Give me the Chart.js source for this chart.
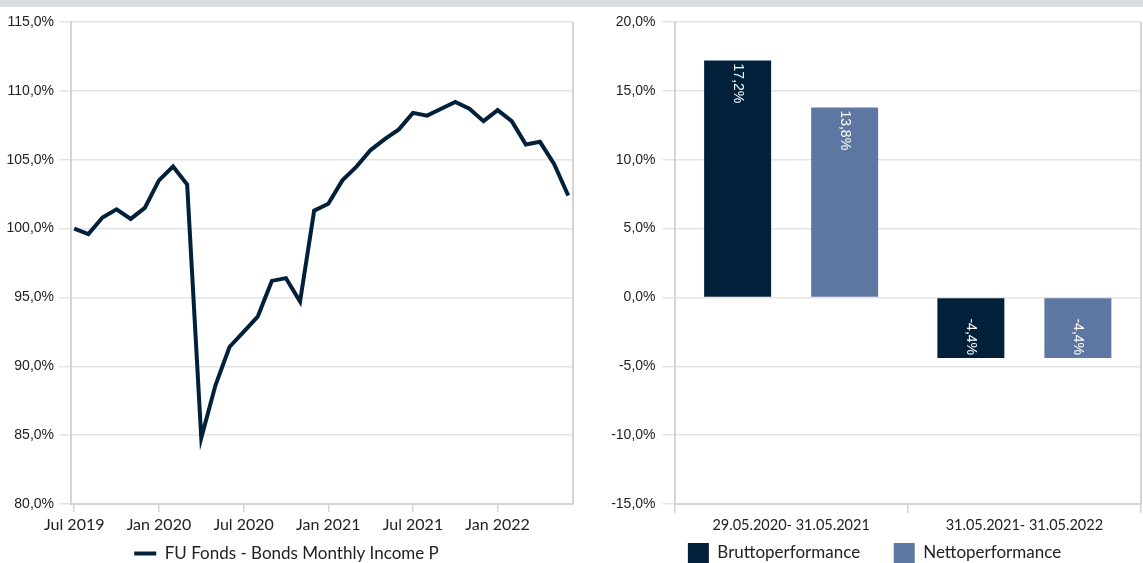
<!DOCTYPE html>
<html>
<head>
<meta charset="utf-8">
<script src="https://cdn.jsdelivr.net/npm/chart.js@4.4.1/dist/chart.umd.min.js"></script>
<style>
    html, body { margin: 0; padding: 0; background: #fff; }
    body { width: 1143px; height: 563px; position: relative; overflow: hidden; }
    #top-bar { position: absolute; left: 0; top: 0; width: 1143px; height: 7px; background: #dadee2; }
    #line-wrap { position: absolute; left: 0; top: 0; width: 582px; height: 563px; }
    #bar-wrap { position: absolute; left: 608px; top: 0; width: 535px; height: 563px; }
</style>
</head>
<body>
<div id="top-bar"></div>
<div id="line-wrap"><canvas id="line-chart" width="582" height="563"></canvas></div>
<div id="bar-wrap"><canvas id="bar-chart" width="535" height="563"></canvas></div>

<script>
// Line chart data (monthly, indexed performance)
const lineLabel = 'FU Fonds - Bonds Monthly Income P';
const lineMonths = [
    'Jul 2019', 'Aug 2019', 'Sep 2019', 'Oct 2019', 'Nov 2019', 'Dec 2019',
    'Jan 2020', 'Feb 2020', 'Mar 2020', 'Apr 2020', 'May 2020', 'Jun 2020',
    'Jul 2020', 'Aug 2020', 'Sep 2020', 'Oct 2020', 'Nov 2020', 'Dec 2020',
    'Jan 2021', 'Feb 2021', 'Mar 2021', 'Apr 2021', 'May 2021', 'Jun 2021',
    'Jul 2021', 'Aug 2021', 'Sep 2021', 'Oct 2021', 'Nov 2021', 'Dec 2021',
    'Jan 2022', 'Feb 2022', 'Mar 2022', 'Apr 2022', 'May 2022', 'Jun 2022'
];
const lineValues = [
    100.0, 99.6, 100.8, 101.4, 100.7, 101.5,
    103.5, 104.5, 103.2, 84.8, 88.6, 91.4,
    92.5, 93.6, 96.2, 96.4, 94.7, 101.3,
    101.8, 103.5, 104.5, 105.7, 106.5, 107.2,
    108.4, 108.2, 108.7, 109.2, 108.7, 107.8,
    108.6, 107.8, 106.1, 106.3, 104.7, 102.4
];
const lineTickEvery = 6;

// Bar chart data (annual performance)
const barPeriods = ['29.05.2020- 31.05.2021', '31.05.2021- 31.05.2022'];
const bruttoLabel = 'Bruttoperformance';
const bruttoValues = [17.2, -4.4];
const nettoLabel = 'Nettoperformance';
const nettoValues = [13.8, -4.4];

const NAVY = '#03203a';
const SLATE = '#5d77a2';
const GRID = '#e4e4e4';
const AXIS = '#d4d4d4';
const TEXT = '#222';
const NARROW = '"Liberation Sans Narrow", "Liberation Sans", Arial, sans-serif';
const SANS = 'Lato, "Open Sans", sans-serif';

// Format like 17,2%
function pct(v) {
    return v.toFixed(1).replace('.', ',') + '%';
}

// Right edge of the plot box
const frameRight = {
    id: 'frameRight',
    beforeDatasetsDraw(chart) {
        const { ctx, chartArea: a } = chart;
        ctx.save();
        ctx.strokeStyle = AXIS;
        ctx.lineWidth = 2;
        ctx.beginPath();
        ctx.moveTo(a.right, a.top);
        ctx.lineTo(a.right, a.bottom);
        ctx.stroke();
        ctx.restore();
    }
};

// Rotated value labels inside the bars
const barValueLabels = {
    id: 'barValueLabels',
    afterDatasetsDraw(chart) {
        const { ctx } = chart;
        ctx.save();
        ctx.font = '14px "Liberation Sans", Arial, sans-serif';
        ctx.fillStyle = '#fff';
        ctx.textBaseline = 'middle';
        chart.data.datasets.forEach((ds, i) => {
            chart.getDatasetMeta(i).data.forEach((bar, j) => {
                const v = ds.data[j];
                ctx.save();
                ctx.translate(bar.x, bar.y);
                ctx.rotate(Math.PI / 2);
                if (v >= 0) {
                    ctx.textAlign = 'left';
                    ctx.fillText(pct(v), 3, 0);
                } else {
                    ctx.textAlign = 'right';
                    ctx.fillText(pct(v), -3, 0);
                }
                ctx.restore();
            });
        });
        ctx.restore();
    }
};

// Line chart
new Chart(document.getElementById('line-chart'), {
    type: 'line',
    data: {
        datasets: [{
            label: lineLabel,
            data: lineValues.map((v, i) => ({ x: i, y: v })),
            borderColor: NAVY,
            backgroundColor: NAVY,
            borderWidth: 4,
            pointRadius: 0,
            pointStyle: 'line',
            tension: 0
        }]
    },
    options: {
        responsive: false,
        animation: false,
        layout: { padding: { top: 22, right: 9, bottom: -9, left: 0 } },
        plugins: {
            tooltip: { enabled: false },
            legend: {
                position: 'bottom',
                labels: {
                    usePointStyle: true,
                    pointStyleWidth: 22,
                    padding: 8,
                    color: TEXT,
                    font: { family: SANS, size: 17 }
                }
            }
        },
        scales: {
            x: {
                type: 'linear',
                min: -0.23,
                max: 35.34,
                afterFit: s => { s.height = 33; },
                // one tick every six months, on the data months themselves
                afterBuildTicks: s => {
                    s.ticks = lineMonths
                        .map((m, i) => ({ value: i }))
                        .filter(t => t.value % lineTickEvery === 0);
                },
                ticks: {
                    autoSkip: false,
                    maxRotation: 0,
                    padding: 3,
                    color: TEXT,
                    font: { family: SANS, size: 16 },
                    callback: v => lineMonths[v]
                },
                grid: { drawOnChartArea: false, color: AXIS, lineWidth: 1.5, tickLength: 8 },
                border: { color: AXIS, width: 2 }
            },
            y: {
                min: 80,
                max: 115,
                afterFit: s => { s.width = 71; },
                ticks: {
                    stepSize: 5,
                    padding: 5,
                    color: TEXT,
                    font: { family: NARROW, size: 14 },
                    callback: v => pct(v)
                },
                grid: { color: GRID, lineWidth: 1.5, tickLength: 12 },
                border: { color: AXIS, width: 2 }
            }
        }
    },
    plugins: [frameRight]
});

// Bar chart
new Chart(document.getElementById('bar-chart'), {
    type: 'bar',
    data: {
        labels: barPeriods,
        datasets: [
            { label: bruttoLabel, data: bruttoValues, backgroundColor: NAVY },
            { label: nettoLabel, data: nettoValues, backgroundColor: SLATE }
        ]
    },
    options: {
        responsive: false,
        animation: false,
        categoryPercentage: 0.9175,
        barPercentage: 0.626,
        layout: { padding: { top: 22, right: 2, bottom: -10, left: 0 } },
        plugins: {
            tooltip: { enabled: false },
            legend: {
                position: 'bottom',
                labels: {
                    boxWidth: 21,
                    boxHeight: 20,
                    padding: 6,
                    color: TEXT,
                    font: { family: SANS, size: 17 },
                    // widen the gap between the two items
                    generateLabels: chart => {
                        const items = Chart.defaults.plugins.legend.labels.generateLabels(chart);
                        items.forEach((it, k) => {
                            if (k < items.length - 1) it.text += '\u2003\u2003\u2009';
                        });
                        return items;
                    }
                }
            }
        },
        scales: {
            x: {
                afterFit: s => { s.height = 33; },
                ticks: {
                    maxRotation: 0,
                    padding: 4,
                    color: TEXT,
                    font: { family: SANS, size: 14.5 }
                },
                grid: { drawOnChartArea: false, color: AXIS, lineWidth: 1.5, tickLength: 9 },
                border: { color: AXIS, width: 2 }
            },
            y: {
                min: -15,
                max: 20,
                afterFit: s => { s.width = 66.5; },
                ticks: {
                    stepSize: 5,
                    padding: 7,
                    color: TEXT,
                    font: { family: NARROW, size: 14 },
                    callback: v => pct(v)
                },
                grid: { color: GRID, lineWidth: 1.5, tickLength: 12 },
                border: { color: AXIS, width: 2 }
            }
        }
    },
    plugins: [frameRight, barValueLabels]
});
</script>
</body>
</html>
